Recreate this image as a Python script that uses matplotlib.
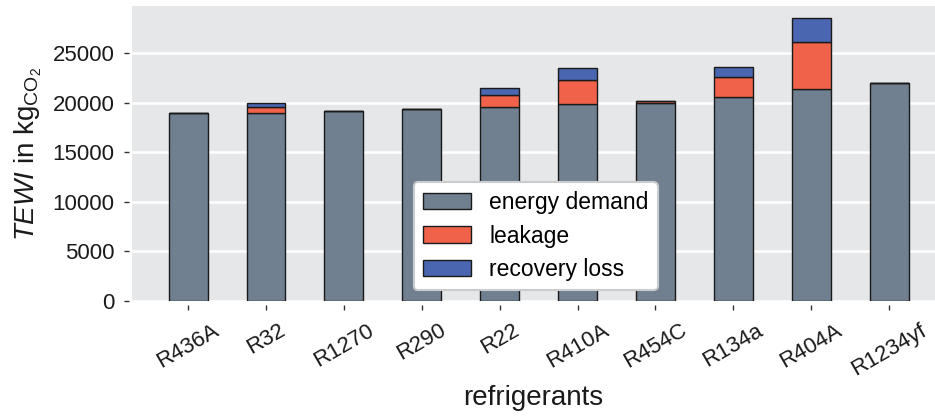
import numpy as np
import matplotlib.pyplot as plt

plt.rcParams['font.family'] = ['Liberation Sans', 'DejaVu Sans']
plt.rcParams['mathtext.fontset'] = 'custom'
plt.rcParams['mathtext.rm'] = 'Liberation Sans'
plt.rcParams['mathtext.it'] = 'Liberation Sans:italic'

refrigerants = ['R436A', 'R32', 'R1270', 'R290', 'R22', 'R410A', 'R454C', 'R134a', 'R404A', 'R1234yf']
energy = [18950, 19000, 19160, 19360, 19600, 19840, 20010, 20620, 21430, 22030]
leakage = [0, 600, 0, 0, 1220, 2500, 230, 1950, 4750, 0]
recovery = [0, 370, 0, 0, 670, 1210, 0, 1010, 2410, 0]

x = np.arange(len(refrigerants))
energy = np.array(energy)
leakage = np.array(leakage)
recovery = np.array(recovery)

fig = plt.figure(figsize=(9.35, 4.19), dpi=100)
ax = fig.add_axes([0.1412, 0.2816, 0.8588, 0.704])
ax.set_facecolor('#e6e7e9')
for s in ax.spines.values():
    s.set_visible(False)
ax.spines['left'].set_position(('outward', 2))
ax.spines['bottom'].set_position(('outward', 3))
ax.yaxis.grid(color='white', linewidth=1.8)
ax.set_axisbelow(True)

w = 0.5
ax.bar(x, energy, w, color='#708090', edgecolor='#1a1a1a', linewidth=1, label='energy demand')
ax.bar(x, leakage, w, bottom=energy, color='#f0634a', edgecolor='#1a1a1a', linewidth=1, label='leakage')
ax.bar(x, recovery, w, bottom=energy + leakage, color='#4a66b0', edgecolor='#1a1a1a', linewidth=1, label='recovery loss')

ax.set_xlim(-0.72, 9.59)
ax.set_ylim(0, 29780)
ax.set_yticks([0, 5000, 10000, 15000, 20000, 25000])
ax.set_xticks(x)
ax.set_xticklabels(refrigerants, rotation=30, ha='center')
ax.tick_params(axis='both', labelsize=16, length=3.6, width=1, color='#333333', labelcolor='#1a1a1a', pad=7)

ax.set_xlabel('refrigerants', fontsize=20, color='#1a1a1a', labelpad=4)
ax.set_ylabel(r'$\it{TEWI}$ in kg$_{\mathrm{CO_2}}$', fontsize=20, color='#1a1a1a', labelpad=6)

leg = ax.legend(loc='lower left', bbox_to_anchor=(0.351, 0.037), fontsize=16.5, frameon=True,
                fancybox=True, handlelength=2.1, handleheight=0.72, handletextpad=0.8,
                borderpad=0.4, labelspacing=0.45, borderaxespad=0)
leg.get_frame().set_edgecolor('#cccccc')
leg.get_frame().set_linewidth(1.5)
leg.get_frame().set_alpha(1)

fig.savefig('out.png', dpi=100)
